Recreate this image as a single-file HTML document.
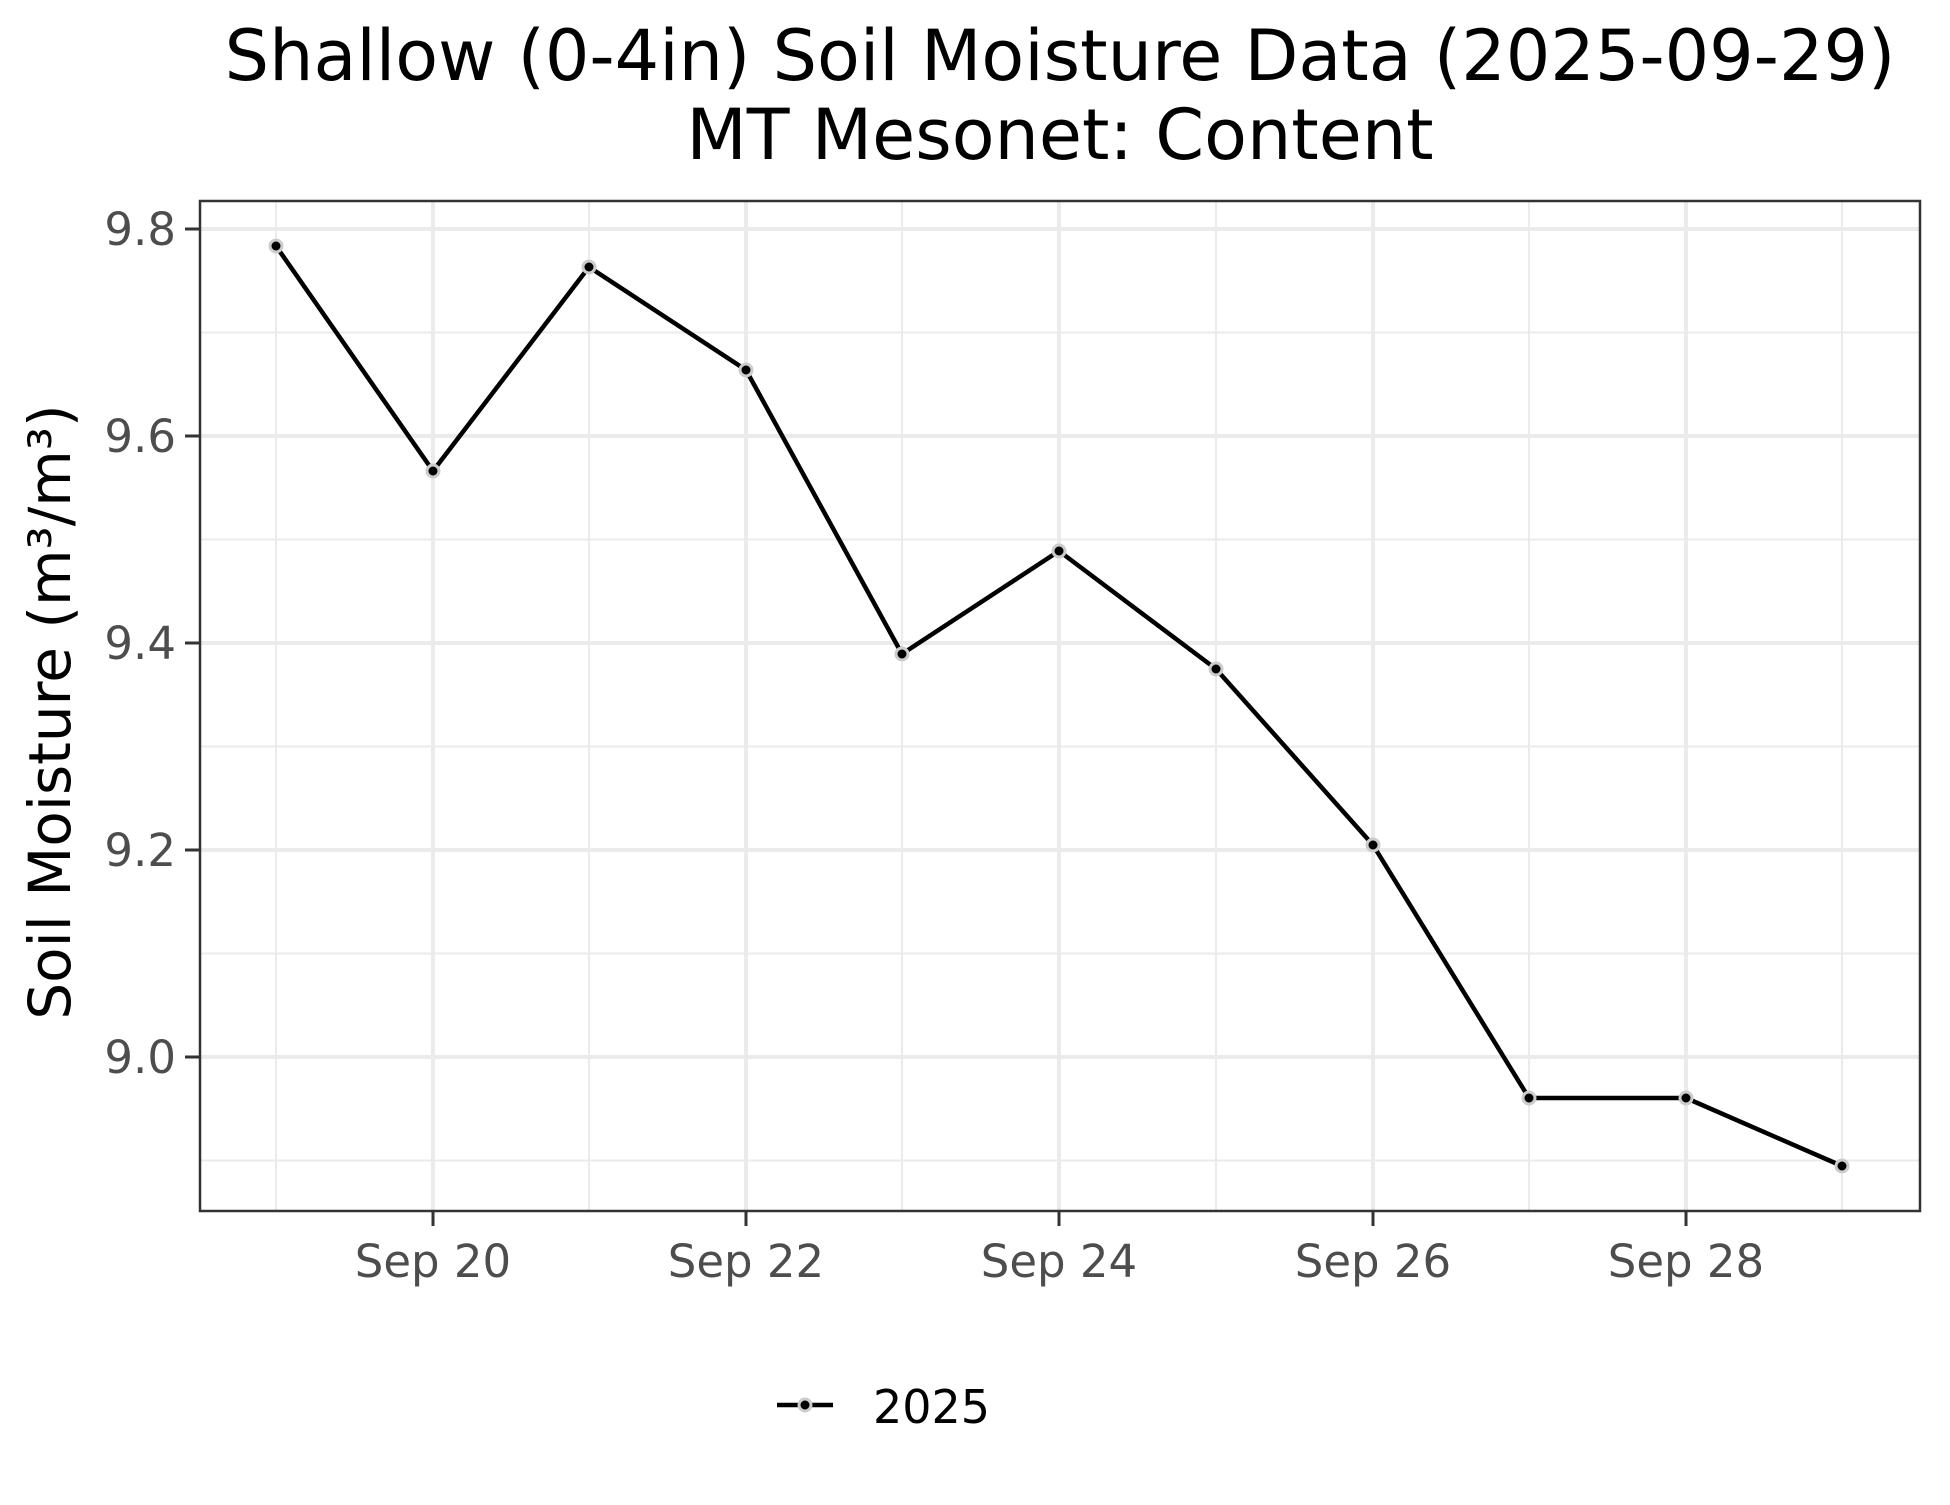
<!DOCTYPE html>
<html><head><meta charset="utf-8"><style>body{margin:0;background:#fff}</style></head><body>
<svg width="1950" height="1500" xmlns="http://www.w3.org/2000/svg" font-family="DejaVu Sans, Liberation Sans, sans-serif">
<rect width="1950" height="1500" fill="#fff"/>
<text x="1060" y="80" font-size="70" text-anchor="middle">Shallow (0-4in) Soil Moisture Data (2025-09-29)</text>
<text x="1060" y="159" font-size="70" text-anchor="middle">MT Mesonet: Content</text>
<g stroke="#ebebeb" stroke-width="2">
<line x1="200" x2="1920" y1="332.5" y2="332.5"/><line x1="200" x2="1920" y1="539.5" y2="539.5"/><line x1="200" x2="1920" y1="746.5" y2="746.5"/><line x1="200" x2="1920" y1="953.5" y2="953.5"/><line x1="200" x2="1920" y1="1160.5" y2="1160.5"/>
<line y1="201" y2="1211" x1="276" x2="276"/><line y1="201" y2="1211" x1="589" x2="589"/><line y1="201" y2="1211" x1="902" x2="902"/><line y1="201" y2="1211" x1="1216" x2="1216"/><line y1="201" y2="1211" x1="1529" x2="1529"/><line y1="201" y2="1211" x1="1842" x2="1842"/>
</g>
<g stroke="#ebebeb" stroke-width="4">
<line x1="200" x2="1920" y1="229" y2="229"/><line x1="200" x2="1920" y1="436" y2="436"/><line x1="200" x2="1920" y1="643" y2="643"/><line x1="200" x2="1920" y1="850" y2="850"/><line x1="200" x2="1920" y1="1057" y2="1057"/>
<line y1="201" y2="1211" x1="433" x2="433"/><line y1="201" y2="1211" x1="746" x2="746"/><line y1="201" y2="1211" x1="1059" x2="1059"/><line y1="201" y2="1211" x1="1373" x2="1373"/><line y1="201" y2="1211" x1="1686" x2="1686"/>
</g>
<rect x="200" y="201" width="1720" height="1010" fill="none" stroke="#333" stroke-width="2.5"/>
<g stroke="#333" stroke-width="3">
<line x1="185" x2="200" y1="229" y2="229"/><line x1="185" x2="200" y1="436" y2="436"/><line x1="185" x2="200" y1="643" y2="643"/><line x1="185" x2="200" y1="850" y2="850"/><line x1="185" x2="200" y1="1057" y2="1057"/>
<line y1="1211" y2="1226" x1="433" x2="433"/><line y1="1211" y2="1226" x1="746" x2="746"/><line y1="1211" y2="1226" x1="1059" x2="1059"/><line y1="1211" y2="1226" x1="1373" x2="1373"/><line y1="1211" y2="1226" x1="1686" x2="1686"/>
</g>
<g font-size="45" fill="#4d4d4d" text-anchor="end">
<text x="176" y="245">9.8</text><text x="176" y="452">9.6</text><text x="176" y="659">9.4</text><text x="176" y="866">9.2</text><text x="176" y="1073">9.0</text>
</g>
<g font-size="45" fill="#4d4d4d" text-anchor="middle">
<text x="433" y="1277">Sep 20</text><text x="746" y="1277">Sep 22</text><text x="1059" y="1277">Sep 24</text><text x="1373" y="1277">Sep 26</text><text x="1686" y="1277">Sep 28</text>
</g>
<text transform="translate(70,712) rotate(-90)" font-size="58" text-anchor="middle">Soil Moisture (m³/m³)</text>
<polyline fill="none" stroke="#000" stroke-width="4.5" stroke-linejoin="round" points="276,246 433,471 589,267 746,370 902,654 1059,551 1216,669 1373,845 1529,1098 1686,1098 1842,1166"/>
<g fill="#000" stroke="#ccc" stroke-width="3">
<circle cx="276" cy="246" r="6"/><circle cx="433" cy="471" r="6"/><circle cx="589" cy="267" r="6"/><circle cx="746" cy="370" r="6"/><circle cx="902" cy="654" r="6"/><circle cx="1059" cy="551" r="6"/><circle cx="1216" cy="669" r="6"/><circle cx="1373" cy="845" r="6"/><circle cx="1529" cy="1098" r="6"/><circle cx="1686" cy="1098" r="6"/><circle cx="1842" cy="1166" r="6"/>
</g>
<line x1="777" x2="833" y1="1405" y2="1405" stroke="#000" stroke-width="4.5"/>
<circle cx="805" cy="1405" r="6" fill="#000" stroke="#ccc" stroke-width="3"/>
<text x="873" y="1423" font-size="46">2025</text>
</svg>
</body></html>
